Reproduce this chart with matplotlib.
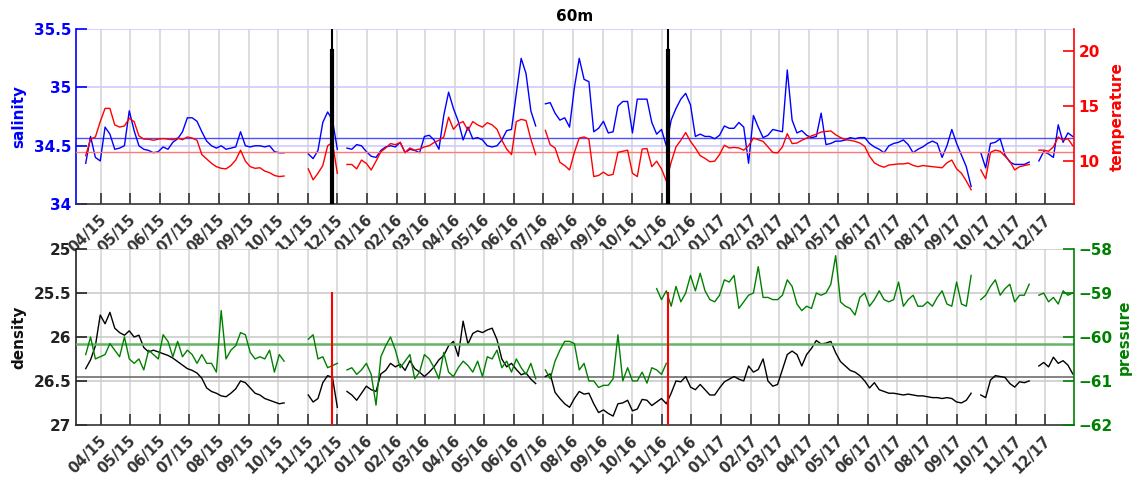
import matplotlib.pyplot as plt
import matplotlib.dates as mdates
from matplotlib.transforms import ScaledTranslation
import numpy as np
import pandas as pd

nan = np.nan

# samples every 5 days from 16 Mar 2015 (205 samples, to 30 Dec 2017)
dates = pd.date_range('2015-03-16', periods=205, freq='5D')

salinity = [
    34.35, 34.58, 34.40, 34.37, 34.66, 34.60, 34.47, 34.48, 34.50, 34.80,
    34.63, 34.50, 34.47, 34.46, 34.44, 34.45, 34.49, 34.47, 34.53, 34.56,
    34.62, 34.74, 34.74, 34.71, 34.62, 34.54, 34.50, 34.48, 34.50, 34.47,
    34.48, 34.49, 34.62, 34.50, 34.49, 34.50, 34.50, 34.49, 34.50, 34.45,
    34.44, 34.44, nan, nan, nan, nan, 34.43, 34.39, 34.46, 34.70,
    34.79, 34.72, 34.47, nan, 34.48, 34.47, 34.51, 34.50, 34.45, 34.41,
    34.40, 34.46, 34.49, 34.50, 34.49, 34.53, 34.44, 34.47, 34.46, 34.44,
    34.58, 34.59, 34.55, 34.47, 34.76, 34.96, 34.82, 34.71, 34.55, 34.66,
    34.56, 34.57, 34.55, 34.50, 34.49, 34.50, 34.55, 34.63, 34.64, 34.95,
    35.25, 35.12, 34.80, 34.67, nan, 34.86, 34.87, 34.78, 34.72, 34.74,
    34.66, 35.00, 35.25, 35.07, 35.05, 34.62, 34.65, 34.71, 34.61, 34.62,
    34.84, 34.88, 34.88, 34.61, 34.90, 34.90, 34.90, 34.70, 34.60, 34.64,
    34.50, 34.72, 34.82, 34.90, 34.95, 34.85, 34.58, 34.60, 34.58, 34.58,
    34.56, 34.59, 34.67, 34.65, 34.65, 34.70, 34.66, 34.35, 34.76, 34.66,
    34.57, 34.59, 34.64, 34.63, 34.62, 35.15, 34.72, 34.61, 34.63, 34.59,
    34.57, 34.58, 34.78, 34.51, 34.52, 34.54, 34.54, 34.55, 34.57, 34.56,
    34.57, 34.57, 34.52, 34.49, 34.47, 34.44, 34.50, 34.52, 34.53, 34.55,
    34.51, 34.44, 34.47, 34.49, 34.52, 34.54, 34.52, 34.40, 34.50, 34.64,
    34.52, 34.42, 34.32, 34.15, nan, 34.44, 34.31, 34.52, 34.53, 34.56,
    34.42, 34.36, 34.34, 34.34, 34.34, 34.36, nan, 34.37, 34.45, 34.43,
    34.40, 34.68, 34.53, 34.61, 34.58,
]

temperature = [
    10.5, 12.0, 12.2, 13.6, 14.8, 14.8, 13.3, 13.1, 13.2, 13.9,
    13.6, 12.3, 12.0, 12.0, 11.9, 12.0, 12.05, 12.0, 11.95, 12.1,
    11.95, 12.2, 12.1, 11.9, 10.6, 10.2, 9.8, 9.5, 9.35, 9.3,
    9.6, 10.1, 11.0, 10.0, 9.5, 9.35, 9.4, 9.1, 8.95, 8.7,
    8.6, 8.65, nan, nan, nan, nan, 9.3, 8.3, 8.9, 9.6,
    11.4, 11.7, 8.9, nan, 9.7, 9.7, 9.3, 10.1, 9.8, 9.2,
    10.0, 10.85, 11.2, 11.6, 11.5, 11.7, 10.8, 11.2, 11.0, 11.1,
    11.3, 11.4, 11.7, 11.9, 12.2, 14.0, 12.9, 13.4, 13.6, 12.8,
    13.6, 13.3, 13.1, 13.5, 13.3, 12.9, 11.9, 11.1, 10.6, 13.6,
    13.8, 13.7, 12.0, 10.6, nan, 12.8, 11.5, 11.2, 9.9, 9.6,
    9.2, 10.8, 12.1, 12.2, 12.0, 8.6, 8.7, 9.0, 8.7, 8.8,
    10.8, 10.9, 11.0, 8.9, 8.6, 11.1, 11.15, 9.5, 10.0, 9.3,
    8.2, 9.9, 11.3, 11.9, 12.6, 11.8, 11.2, 10.5, 10.25, 9.95,
    10.0, 10.6, 11.45, 11.2, 11.25, 11.2, 11.0, 11.4, 12.1, 11.95,
    11.8, 11.3, 10.8, 10.75, 11.3, 12.5, 11.6, 11.65, 11.9, 12.1,
    12.3, 12.45, 12.65, 12.7, 12.75, 12.4, 12.15, 11.95, 11.9, 11.8,
    11.65, 11.35, 10.45, 9.85, 9.6, 9.45, 9.65, 9.7, 9.75, 9.75,
    9.83, 9.62, 9.5, 9.6, 9.55, 9.5, 9.45, 9.4, 9.85, 10.1,
    9.3, 8.9, 8.2, 7.4, nan, 9.2, 8.4, 10.8, 11.0, 10.9,
    10.45, 10.0, 9.2, 9.5, 9.6, 9.7, nan, 11.0, 11.0, 10.9,
    11.3, 12.2, 11.9, 12.05, 11.4,
]

density = [
    26.36, 26.26, 26.10, 25.75, 25.85, 25.72, 25.90, 25.95, 25.98, 25.93,
    26.00, 25.98, 26.12, 26.17, 26.15, 26.17, 26.19, 26.21, 26.24, 26.28,
    26.32, 26.36, 26.38, 26.41, 26.47, 26.58, 26.62, 26.64, 26.67, 26.68,
    26.64, 26.59, 26.50, 26.52, 26.58, 26.64, 26.66, 26.70, 26.72, 26.74,
    26.76, 26.75, nan, nan, nan, nan, 26.66, 26.74, 26.70, 26.52,
    26.44, 26.46, 26.80, nan, 26.62, 26.66, 26.72, 26.64, 26.56, 26.60,
    26.62, 26.42, 26.38, 26.30, 26.34, 26.31, 26.38, 26.27, 26.36, 26.40,
    26.45, 26.40, 26.34, 26.26, 26.21, 26.10, 26.05, 26.22, 25.82, 26.08,
    25.96, 25.93, 25.95, 25.92, 25.90, 26.03, 26.25, 26.34, 26.30, 26.37,
    26.43, 26.41, 26.48, 26.53, nan, 26.45, 26.42, 26.63, 26.70, 26.76,
    26.80, 26.70, 26.62, 26.65, 26.64, 26.76, 26.86, 26.83, 26.87, 26.90,
    26.76, 26.75, 26.72, 26.84, 26.82, 26.71, 26.72, 26.78, 26.74, 26.70,
    26.76, 26.64, 26.50, 26.51, 26.45, 26.57, 26.60, 26.54, 26.60, 26.66,
    26.66, 26.58, 26.51, 26.48, 26.45, 26.48, 26.50, 26.33, 26.40, 26.37,
    26.25, 26.50, 26.56, 26.54, 26.37, 26.20, 26.16, 26.20, 26.33, 26.20,
    26.13, 26.04, 26.08, 26.07, 26.05, 26.18, 26.28, 26.33, 26.38, 26.40,
    26.44, 26.50, 26.58, 26.52, 26.60, 26.62, 26.64, 26.64, 26.65, 26.66,
    26.65, 26.66, 26.67, 26.67, 26.68, 26.69, 26.69, 26.70, 26.69, 26.70,
    26.74, 26.75, 26.72, 26.64, nan, 26.66, 26.69, 26.49, 26.44, 26.45,
    26.46, 26.53, 26.57, 26.51, 26.52, 26.50, nan, 26.33, 26.29, 26.34,
    26.23, 26.30, 26.27, 26.32, 26.42,
]

# pressure of the first two deployments (from the first sample)
pressure_old = [
    -60.4, -60.0, -60.5, -60.45, -60.4, -60.15, -60.3, -60.45, -60.0, -60.5,
    -60.6, -60.5, -60.75, -60.3, -60.4, -60.5, -59.95, -60.1, -60.45, -60.1,
    -60.45, -60.3, -60.4, -60.6, -60.4, -60.6, -60.6, -60.8, -59.4, -60.5,
    -60.3, -60.2, -59.9, -59.95, -60.35, -60.5, -60.45, -60.5, -60.3, -60.8,
    -60.4, -60.55, nan, nan, nan, nan, -60.05, -59.95, -60.5, -60.45,
    -60.7, -60.65, -60.6, nan, -60.75, -60.7, -60.85, -60.75, -60.6, -60.85,
    -61.55, -60.45, -60.2, -60.0, -60.3, -60.7, -60.55, -60.4, -60.95, -60.8,
    -60.4, -60.5, -60.7, -60.95, -60.35, -60.8, -60.9, -60.7, -60.55, -60.65,
    -60.8, -60.55, -60.9, -60.45, -60.5, -60.3, -60.7, -60.55, -60.8, -60.5,
    -60.7, -60.85, -60.6, -60.95, nan, -60.75, -60.95, -60.55, -60.3, -60.1,
    -60.1, -60.15, -60.75, -60.6, -61.0, -61.0, -61.15, -61.1, -61.1, -60.95,
    -59.95, -61.0, -60.7, -61.0, -61.0, -60.8, -61.05, -60.7, -60.75, -60.85,
    -60.6,
]

# pressure of the third deployment (starts at sample 118)
new_start = 118
pressure_new = [
    -58.9, -59.15,
    -58.95, -59.3, -58.85, -59.2, -59.0, -58.6, -58.95, -58.55, -58.95, -59.15,
    -59.2, -59.05, -58.7, -58.75, -58.6, -59.35, -59.2, -59.05, -59.0, -58.4,
    -59.1, -59.1, -59.15, -59.15, -59.05, -58.7, -58.85, -59.25, -59.4, -59.3,
    -59.35, -59.0, -59.05, -59.0, -58.8, -58.15, -59.2, -59.3, -59.35, -59.5,
    -59.1, -59.0, -59.3, -59.15, -58.95, -59.15, -59.2, -59.15, -58.75, -59.3,
    -59.15, -59.05, -59.3, -59.3, -59.2, -59.3, -59.1, -58.95, -59.25, -59.3,
    -58.75, -59.25, -59.3, -58.6, nan, -59.15, -59.05, -58.85, -58.7, -59.05,
    -58.9, -58.8, -59.2, -59.05, -59.05, -58.8, nan, -59.05, -59.0, -59.2,
    -59.1, -59.25, -58.95, -59.05, -59.0,
]

# reference levels and deployment changes
sal_mean = 34.57
temp_mean = 10.85
dens_mean = 26.46
pres_mean = -60.15
changes = pd.to_datetime(['2015-11-25', '2016-11-07'])

plt.rcParams.update({'font.size': 11, 'font.weight': 'bold',
                     'axes.labelweight': 'bold'})

fig = plt.figure(figsize=(11.35, 4.79), dpi=100)
ax1 = fig.add_axes([0.067, 0.574, 0.879, 0.365])
ax2 = ax1.twinx()
ax3 = fig.add_axes([0.067, 0.113, 0.879, 0.367])
ax4 = ax3.twinx()

xlim = (pd.Timestamp('2015-03-06'), pd.Timestamp('2017-12-31'))
months = pd.date_range('2015-04-01', '2017-12-01', freq='MS')
xgray = '#333333'
shift = ScaledTranslation(0.03, 0, fig.dpi_scale_trans)

for ax in (ax1, ax3):
    ax.set_xlim(xlim)
    ax.set_xticks(months)
    ax.xaxis.set_major_formatter(mdates.DateFormatter('%m/%y'))
    for m in months:
        ax.axvline(m, color='#dadada', lw=1.3, zorder=0)
    ax.tick_params(axis='x', direction='in', length=8, width=1.2,
                   colors=xgray, pad=9.5, labelsize=10.5)
    for lab in ax.get_xticklabels():
        lab.set_rotation(45)
        lab.set_ha('right')
        lab.set_va('center')
        lab.set_rotation_mode('anchor')
        lab.set_transform(lab.get_transform() + shift)
    ax.spines['top'].set_visible(False)
    ax.spines['right'].set_visible(False)
    ax.spines['bottom'].set_color(xgray)
    ax.spines['bottom'].set_linewidth(1.2)
for ax in (ax2, ax4):
    ax.spines['top'].set_visible(False)
    ax.spines['left'].set_visible(False)
    ax.spines['bottom'].set_visible(False)

# top panel: salinity and temperature
ax1.set_ylim(34, 35.5)
ax1.set_yticks([34, 34.5, 35, 35.5])
ax1.set_yticklabels(['34', '34.5', '35', '35.5'])
for v in [34.5, 35, 35.5]:
    ax1.axhline(v, color='#ccccff', lw=1.2, zorder=0)
ax1.axhline(sal_mean, color='#4d4dff', lw=1)
ax1.plot(dates, salinity, color='b', lw=1)
ax1.spines['left'].set_color('b')
ax1.spines['left'].set_linewidth(1.2)
ax1.tick_params(axis='y', direction='in', length=8, width=1.2, colors='b')
ax1.set_ylabel('salinity', color='b')
ax1.yaxis.set_label_coords(-0.050, 0.5)
ax1.set_title('60m', fontweight='bold', fontsize=11, pad=6)

ax2.set_ylim(6.1, 22)
ax2.set_yticks([10, 15, 20])
ax2.axhline(temp_mean, color='#ff7777', lw=1)
ax2.plot(dates, temperature, color='r', lw=1)
for d in changes:
    ax1.axvline(d, color='k', lw=1.5)
    ax2.plot([d, d], [6.1, 20], color='k', lw=3)
ax2.spines['right'].set_color('r')
ax2.spines['right'].set_linewidth(1.2)
ax2.tick_params(axis='y', direction='in', length=8, width=1.2, colors='r')
ax2.set_ylabel('temperature', color='r')
ax2.yaxis.set_label_coords(1.036, 0.5)

# bottom panel: density and pressure
ax3.set_ylim(27, 25)
ax3.set_yticks([25, 25.5, 26, 26.5, 27])
ax3.set_yticklabels(['25', '25.5', '26', '26.5', '27'])
for v in [25, 25.5, 26, 26.5]:
    ax3.axhline(v, color='#cccccc', lw=1.2, zorder=0)
ax3.axhline(dens_mean, color='#707070', lw=1.2)
ax3.plot(dates, density, color='k', lw=1)
ax3.spines['left'].set_color('#222222')
ax3.spines['left'].set_linewidth(1.2)
ax3.tick_params(axis='y', direction='in', length=8, width=1.2,
                colors='#222222')
ax3.set_ylabel('density', color='#111111')
ax3.yaxis.set_label_coords(-0.050, 0.5)

ax4.set_ylim(-62, -58)
ax4.set_yticks([-62, -61, -60, -59, -58])
ax4.axhline(pres_mean, color='#66b366', lw=1.8)
ax4.plot(dates[:len(pressure_old)], pressure_old, color='g', lw=1)
ax4.plot(dates[new_start:new_start + len(pressure_new)], pressure_new,
         color='g', lw=1)
for d in changes:
    ax4.plot([d, d], [-62, -59], color='r', lw=1.5)
ax4.spines['right'].set_color('g')
ax4.spines['right'].set_linewidth(1.2)
ax4.tick_params(axis='y', direction='in', length=8, width=1.2, colors='g')
ax4.set_ylabel('pressure', color='g')
ax4.yaxis.set_label_coords(1.043, 0.5)

fig.savefig('out.png', dpi=100)
